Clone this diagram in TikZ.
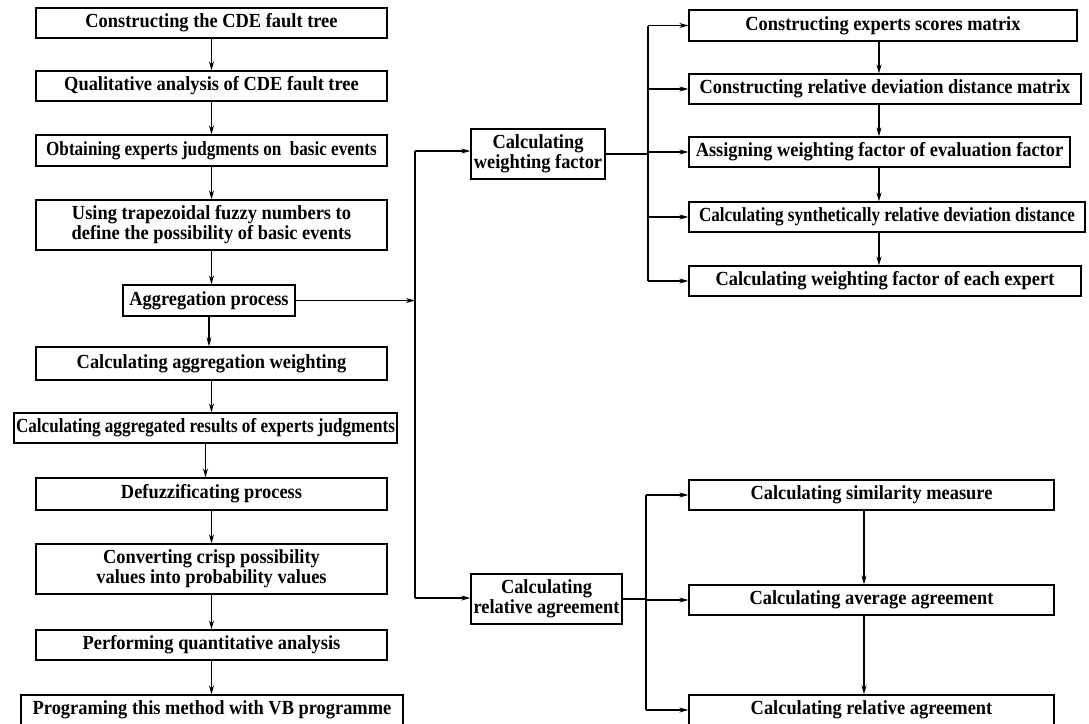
\documentclass[tikz,border=0pt]{standalone}
\usepackage{fontspec}
\setmainfont{Liberation Serif}
\newfontfamily\boxfont[FakeStretch=0.92]{Liberation Serif}
\newfontfamily\tightfont[FakeStretch=0.855]{Liberation Serif}
\usetikzlibrary{arrows.meta, positioning, calc}
\tikzset{
  every picture/.style={line width=1.3pt, x=1pt, y=-1pt},
  box/.style={draw, align=center, inner sep=0pt, minimum height=30pt, font=\boxfont\bfseries\fontsize{20}{20}\selectfont},
  tight/.style={font=\tightfont\bfseries\fontsize{20}{20}\selectfont},
  arrow/.style={-{Stealth[length=9pt, width=5pt]}},
}
\begin{document}
\begin{tikzpicture}
  \tikzset{b/.style={box, minimum width=#1}}
  \clip (0,0) rectangle (1089,723);
  % main sequence
  \node[b=351pt] (fta) at (211.5,23) {Constructing the CDE fault tree};
  \node[b=351pt] (qual) at (211.5,86) {Qualitative analysis of CDE fault tree};
  \node[b=351pt, tight, minimum height=31pt] (judg) at (211.5,150.5) {Obtaining experts judgments on\ \ basic events};
  \node[b=351pt, minimum height=50pt] (trap) at (211.5,225) {Using trapezoidal fuzzy numbers to\\define the possibility of basic events};
  \node[b=172pt, minimum height=31pt] (aggr) at (209,300.5) {Aggregation process};
  \node[b=351pt, minimum height=33pt] (aggw) at (211.5,363.5) {Calculating aggregation weighting};
  \node[b=383pt, tight] (aggres) at (205.5,428) {Calculating aggregated results of experts judgments};
  \node[b=351pt, minimum height=32pt] (defuz) at (211.5,494) {Defuzzificating process};
  \node[b=351pt, minimum height=50pt] (conv) at (211.5,569) {Converting crisp possibility\\values into probability values};
  \node[b=351pt] (quant) at (211.5,645) {Performing quantitative analysis};
  \node[b=382pt] (vb) at (212,710) {Programing this method with VB programme};
  \foreach \a/\b in {fta/qual, qual/judg, judg/trap, trap/aggr, aggr/aggw, aggw/aggres, aggres/defuz, defuz/conv, conv/quant, quant/vb}
    \draw[arrow] (\a) -- (\a |- \b.north);
  % split towards the two branches
  \coordinate (jt) at (415,151);
  \coordinate (jb) at (415,598);
  \draw (jt) -- (jb);
  \draw[arrow] (aggr) -- (aggr -| jt);
  % weighting factor branch
  \node[b=134pt, minimum height=50pt] (wf) at (538,154) {Calculating\\weighting factor};
  \draw[arrow] (jt) -- (jt -| wf.west);
  \coordinate (bx) at (648,0);
  \coordinate (ax) at (879,0);
  \node[b=388pt, minimum height=31pt] (score) at (883,25.5) {Constructing experts scores matrix};
  \node[b=392pt] (dev) at (885,89) {Constructing relative deviation distance matrix};
  \node[b=381pt] (assign) at (879.5,152) {Assigning weighting factor of evaluation factor};
  \node[b=396pt, tight] (synth) at (887,217) {Calculating synthetically relative deviation distance};
  \node[b=392pt] (each) at (885,281) {Calculating weighting factor of each expert};
  \draw (wf) -- (wf -| bx);
  \draw (score.west -| bx) -- (each.west -| bx);
  \foreach \r in {score, dev, assign, synth, each}
    \draw[arrow] (\r.west -| bx) -- (\r.west);
  \foreach \a/\b in {score/dev, dev/assign, assign/synth, synth/each}
    \draw[arrow] (\a.south -| ax) -- (\b.north -| ax);
  % relative agreement branch
  \node[b=151pt, minimum height=50pt] (ra) at (546.5,599) {Calculating\\relative agreement};
  \draw[arrow] (jb) -- (jb -| ra.west);
  \coordinate (cx) at (646,0);
  \coordinate (dx) at (864,0);
  \node[b=365pt] (sim) at (871.5,495) {Calculating similarity measure};
  \node[b=365pt] (avg) at (871.5,600) {Calculating average agreement};
  \node[b=365pt] (rel) at (871.5,710) {Calculating relative agreement};
  \draw (ra) -- (ra -| cx);
  \draw (sim.west -| cx) -- (rel.west -| cx);
  \foreach \r in {sim, avg, rel}
    \draw[arrow] (\r.west -| cx) -- (\r.west);
  \foreach \a/\b in {sim/avg, avg/rel}
    \draw[arrow] (\a.south -| dx) -- (\b.north -| dx);
\end{tikzpicture}
\end{document}
